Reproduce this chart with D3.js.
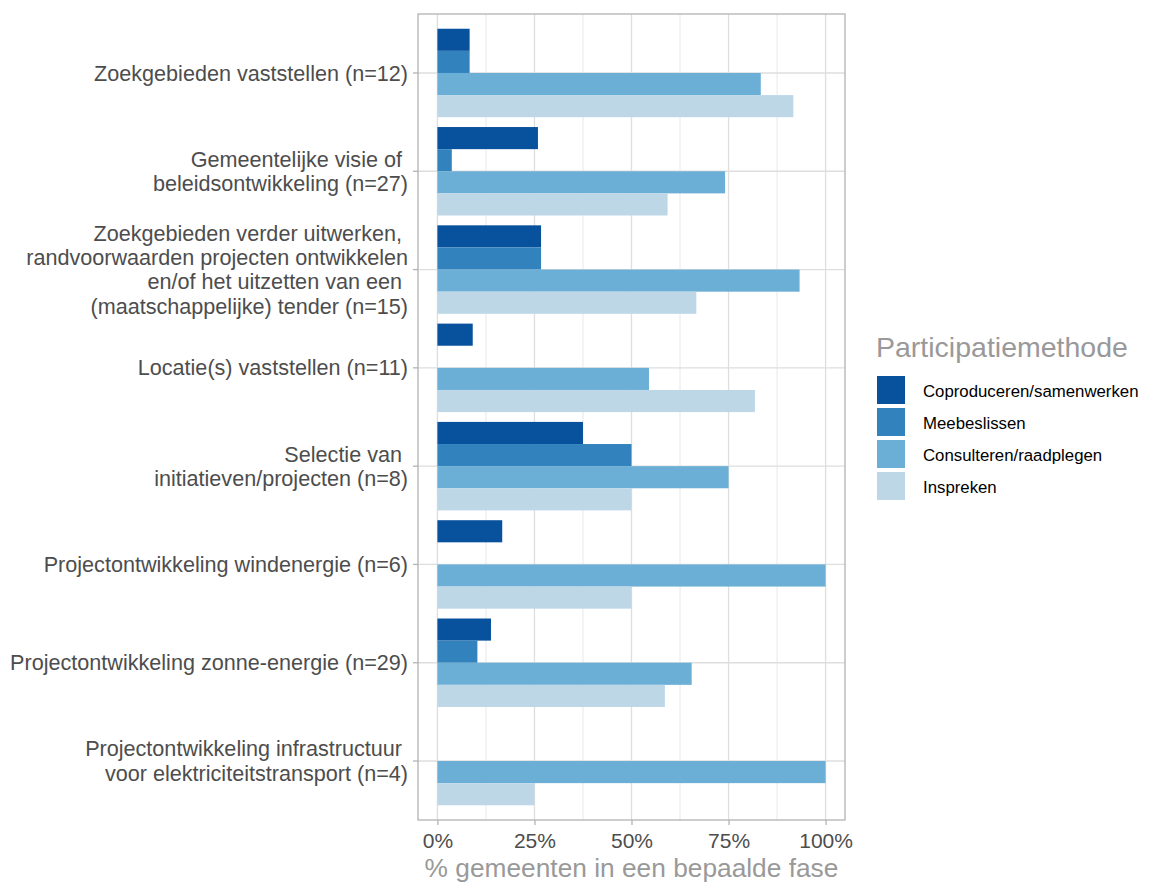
<!DOCTYPE html>
<html>
<head>
<meta charset="utf-8">
<script src="https://d3js.org/d3.v7.min.js"></script>
<style>
  body { margin: 0; background: #fff; }
  text { font-family: "Liberation Sans", Arial, sans-serif; white-space: pre; }
</style>
</head>
<body>
<div id="chart"></div>
<script>
// categories (top to bottom), each a list of label lines
var categories = [
  ["Zoekgebieden vaststellen (n=12)"],
  ["Gemeentelijke visie of ", "beleidsontwikkeling (n=27)"],
  ["Zoekgebieden verder uitwerken, ", "randvoorwaarden projecten ontwikkelen", "en/of het uitzetten van een ", "(maatschappelijke) tender (n=15)"],
  ["Locatie(s) vaststellen (n=11)"],
  ["Selectie van ", "initiatieven/projecten (n=8)"],
  ["Projectontwikkeling windenergie (n=6)"],
  ["Projectontwikkeling zonne-energie (n=29)"],
  ["Projectontwikkeling infrastructuur ", "voor elektriciteitstransport (n=4)"]
];
var methods = ["Coproduceren/samenwerken", "Meebeslissen", "Consulteren/raadplegen", "Inspreken"];
var colors = ["#08519c", "#3182bd", "#6baed6", "#bdd7e7"];

// percentages per method, in category order (null = no bar)
var coproduceren = [8.3, 25.9, 26.7, 9.1, 37.5, 16.7, 13.8, null];
var meebeslissen = [8.3, 3.7, 26.7, null, 50, null, 10.3, null];
var consulteren  = [83.3, 74.1, 93.3, 54.5, 75, 100, 65.5, 100];
var inspreken    = [91.7, 59.3, 66.7, 81.8, 50, 50, 58.6, 25];
var series = [coproduceren, meebeslissen, consulteren, inspreken];

var xTicks = [0, 25, 50, 75, 100];
var xMinor = [12.5, 37.5, 62.5, 87.5];

var W = 1149, H = 882;
var panel = {left: 418, right: 845, top: 14, bottom: 820};

var svg = d3.select("#chart").append("svg")
  .attr("width", W).attr("height", H);

// x: 5% expansion each side
var x = d3.scaleLinear().domain([-5, 105]).range([panel.left, panel.right]);
// y: discrete with 0.6 padding
var y = d3.scaleLinear().domain([0.4, categories.length + 0.6]).range([panel.top, panel.bottom]);
var band = d3.scaleBand().domain(methods).range([-0.45, 0.45]);

var g = svg.append("g");

// grid
g.selectAll(".minor").data(xMinor).enter().append("line")
  .attr("x1", d => x(d)).attr("x2", d => x(d))
  .attr("y1", panel.top).attr("y2", panel.bottom)
  .attr("stroke", "#e8e8e8").attr("stroke-width", 1);
g.selectAll(".major").data(xTicks).enter().append("line")
  .attr("x1", d => x(d)).attr("x2", d => x(d))
  .attr("y1", panel.top).attr("y2", panel.bottom)
  .attr("stroke", "#dedede").attr("stroke-width", 1.3);
g.selectAll(".ygrid").data(categories).enter().append("line")
  .attr("x1", panel.left).attr("x2", panel.right)
  .attr("y1", (d, i) => y(i + 1)).attr("y2", (d, i) => y(i + 1))
  .attr("stroke", "#dedede").attr("stroke-width", 1.3);

// bars
series.forEach(function(vals, s) {
  g.append("g").selectAll("rect")
    .data(vals.map((v, i) => ({v: v, i: i})).filter(d => d.v !== null))
    .enter().append("rect")
    .attr("x", x(0))
    .attr("width", d => x(d.v) - x(0))
    .attr("y", d => y(d.i + 1 + band(methods[s])))
    .attr("height", y(band.bandwidth()) - y(0))
    .attr("fill", colors[s]);
});

// panel border
g.append("rect")
  .attr("x", panel.left).attr("y", panel.top)
  .attr("width", panel.right - panel.left).attr("height", panel.bottom - panel.top)
  .attr("fill", "none").attr("stroke", "#b3b3b3").attr("stroke-width", 1.3);

// x axis
var xAxis = g.append("g")
  .attr("transform", "translate(0," + panel.bottom + ")")
  .call(d3.axisBottom(x).tickValues(xTicks).tickSize(5).tickFormat(d => d + "%"));
xAxis.select(".domain").remove();
xAxis.selectAll("line").attr("stroke", "#b3b3b3").attr("stroke-width", 1.3);
xAxis.selectAll("text").attr("fill", "#4d4d4d").attr("font-size", 21)
  .attr("font-family", "Liberation Sans, Arial, sans-serif")
  .attr("y", 28).attr("dy", null);

svg.append("text")
  .attr("x", (panel.left + panel.right) / 2).attr("y", 877)
  .attr("text-anchor", "middle").attr("fill", "#999999")
  .attr("font-size", 26.3)
  .text("% gemeenten in een bepaalde fase");

// y axis
var yAxis = g.append("g");
categories.forEach(function(lines, i) {
  var cy = y(i + 1);
  yAxis.append("line")
    .attr("x1", panel.left - 5).attr("x2", panel.left)
    .attr("y1", cy).attr("y2", cy)
    .attr("stroke", "#b3b3b3").attr("stroke-width", 1.3);
  var lh = 24.3;
  var t = yAxis.append("text")
    .attr("text-anchor", "end").attr("fill", "#4d4d4d").attr("font-size", 21.6);
  lines.forEach(function(line, k) {
    t.append("tspan")
      .attr("x", panel.left - 10)
      .attr("y", cy + (k - (lines.length - 1) / 2) * lh)
      .attr("dy", "0.35em")
      .text(line);
  });
});

// legend
var leg = svg.append("g").attr("transform", "translate(876,0)");
leg.append("text")
  .attr("x", 0).attr("y", 357)
  .attr("fill", "#999999").attr("font-size", 28.5)
  .text("Participatiemethode");
methods.forEach(function(m, i) {
  leg.append("rect")
    .attr("x", 1).attr("y", 376 + i * 32)
    .attr("width", 28).attr("height", 28)
    .attr("fill", colors[i]);
  leg.append("text")
    .attr("x", 47).attr("y", 391 + i * 32).attr("dy", "0.35em")
    .attr("fill", "#000").attr("font-size", 16.8)
    .text(m);
});
</script>
</body>
</html>
